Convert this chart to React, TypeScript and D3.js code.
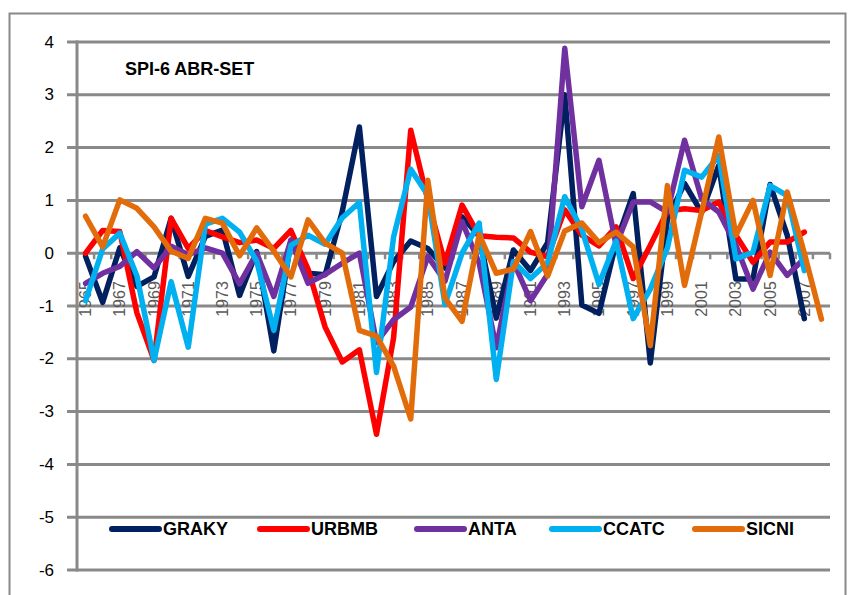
import React from 'react';
import * as d3 from 'd3';

// categories: 1965..2008
const years: number[] = d3.range(1965, 2009);

// SPI-6 values (null = no value)
const GRAKY: (number | null)[] = [
  -0.06, -0.93, 0.1, -0.63, -0.45, 0.66, -0.44, 0.32, 0.44, -0.8,
  0.03, -1.85, 0.24, -0.38, -0.41, 0.79, 2.39, -0.82, -0.16, 0.23,
  0.09, -0.28, 0.69, 0.32, -1.23, 0.06, -0.33, 0.2, 3.0, -0.98,
  -1.14, 0.2, 1.13, -2.08, 0.65, 1.32, 0.77, 1.66, -0.49, -0.49,
  1.3, 0.34, -1.24, null,
];
const URBMB: (number | null)[] = [
  0, 0.43, 0.41, -1.13, -2.03, 0.66, 0.09, 0.43, 0.31, 0.2,
  0.25, 0.09, 0.43, -0.3, -1.4, -2.06, -1.83, -3.43, -1.6, 2.33,
  1.0, -0.19, 0.91, 0.33, 0.3, 0.29, 0.02, -0.07, 0.82, 0.34,
  0.14, 0.5, -0.48, 0.15, 0.8, 0.84, 0.81, 0.97, 0.34, -0.17,
  0.21, 0.21, 0.4, null,
];
const ANTA: (number | null)[] = [
  -0.57, -0.38, -0.25, 0.03, -0.28, 0.13, -0.03, 0.1, 0.0, -0.58,
  0.0, -0.82, 0.25, -0.57, -0.4, -0.19, 0.0, -1.69, -1.26, -1.02,
  -0.06, -0.53, 0.6, -0.19, -1.79, -0.16, -0.9, -0.4, 3.88, 0.88,
  1.76, 0.15, 0.97, 0.97, 0.78, 2.14, 1.03, 0.78, 0.15, -0.68,
  0.02, -0.42, -0.1, null,
];
const CCATC: (number | null)[] = [
  -0.9, 0.08, 0.38, -0.43, -2.03, -0.54, -1.78, 0.55, 0.66, 0.4,
  -0.15, -1.46, 0.15, 0.34, 0.17, 0.67, 0.96, -2.26, 0.31, 1.59,
  1.1, -0.97, 0.0, 0.57, -2.39, -0.16, -0.48, -0.18, 1.07, 0.45,
  -0.59, 0.23, -1.24, -0.68, 0.1, 1.57, 1.44, 1.85, -0.11, 0.02,
  1.28, 1.09, -0.33, null,
];
const SICNI: (number | null)[] = [
  0.7, 0.12, 1.01, 0.85, 0.5, 0.04, -0.1, 0.66, 0.57, -0.05,
  0.48, 0.04, -0.45, 0.63, 0.19, 0.0, -1.46, -1.57, -2.14, -3.14,
  1.38, -0.85, -1.29, 0.35, -0.38, -0.3, 0.41, -0.43, 0.42, 0.57,
  0.2, 0.4, 0.12, -1.75, 1.28, -0.61, 0.78, 2.2, 0.34, 1.0,
  -0.42, 1.16, 0.0, -1.25,
];

const seriesNames = ['GRAKY', 'URBMB', 'ANTA', 'CCATC', 'SICNI'];
const seriesValues = [GRAKY, URBMB, ANTA, CCATC, SICNI];
const seriesColors = ['#002060', '#FF0000', '#7030A0', '#00B0F0', '#E36C0A'];

const yTicks = [4, 3, 2, 1, 0, -1, -2, -3, -4, -5, -6];
const title = 'SPI-6 ABR-SET';

const W = 850;
const H = 595;
const plot = { left: 77, right: 830, top: 42, bottom: 570 };
const gridColor = '#898989';
const font = '"Liberation Sans", Arial, sans-serif';

// legend item x starts (layout)
const legendX = [110, 258, 415, 550, 693];

export default function App() {
  const x = d3.scaleBand<number>().domain(years).range([plot.left, plot.right]).paddingInner(0).paddingOuter(0);
  const y = d3.scaleLinear().domain([-6, 4]).range([plot.bottom, plot.top]);
  const bw = x.bandwidth();
  const cx = (yr: number) => (x(yr) as number) + bw / 2;
  const y0 = y(0);

  const line = d3.line<[number, number | null]>()
    .defined(d => d[1] !== null)
    .x(d => cx(d[0]))
    .y(d => y(d[1] as number));

  const boundaries = d3.range(0, years.length + 1).map(k => plot.left + k * bw);

  return (
    <div style={{ position: 'absolute', left: 0, top: 0 }}>
      <svg width={W} height={H} style={{ display: 'block', fontFamily: font }}>
        <rect x={0} y={0} width={W} height={H} fill="#fff" />
        <rect x={9.5} y={13.5} width={836} height={600} fill="none" stroke={gridColor} strokeWidth={2} />

        {/* gridlines */}
        {yTicks.map(t => (
          <line key={t} x1={plot.left - 10} x2={plot.right} y1={y(t)} y2={y(t)} stroke={gridColor} strokeWidth={3} />
        ))}
        <line x1={plot.left} x2={plot.left} y1={plot.top - 1.5} y2={plot.bottom + 1.5} stroke={gridColor} strokeWidth={3} />

        {/* category ticks on the zero line */}
        {boundaries.map((bx, i) => (
          <line key={i} x1={bx} x2={bx} y1={y0} y2={y0 + 6} stroke={gridColor} strokeWidth={2.5} />
        ))}

        {/* y labels */}
        {yTicks.map(t => (
          <text key={t} x={54} y={y(t)} textAnchor="end" dominantBaseline="central" fontSize={17} fill="#000">
            {t}
          </text>
        ))}

        {/* x labels */}
        {years.filter((_, i) => i % 2 === 0).map(yr => (
          <text
            key={yr}
            transform={`translate(${cx(yr)},${y0 + 28}) rotate(-90)`}
            textAnchor="end"
            dominantBaseline="central"
            fontSize={16}
            fill="#595959"
          >
            {yr}
          </text>
        ))}

        {/* series */}
        {seriesValues.map((vals, si) => (
          <path
            key={seriesNames[si]}
            d={line(years.map((yr, i) => [yr, vals[i]] as [number, number | null])) || ''}
            fill="none"
            stroke={seriesColors[si]}
            strokeWidth={5.5}
            strokeLinejoin="round"
            strokeLinecap="round"
          />
        ))}

        {/* title */}
        <text x={125} y={75} fontSize={18} fontWeight="bold" fill="#000">{title}</text>

        {/* legend */}
        {seriesNames.map((name, i) => (
          <g key={name} transform={`translate(${legendX[i]},529)`}>
            <line x1={2} x2={49} y1={0} y2={0} stroke={seriesColors[i]} strokeWidth={6} strokeLinecap="round" />
            <text x={53} y={0} dominantBaseline="central" fontSize={18} fontWeight="bold" fill="#000">{name}</text>
          </g>
        ))}
      </svg>
    </div>
  );
}
